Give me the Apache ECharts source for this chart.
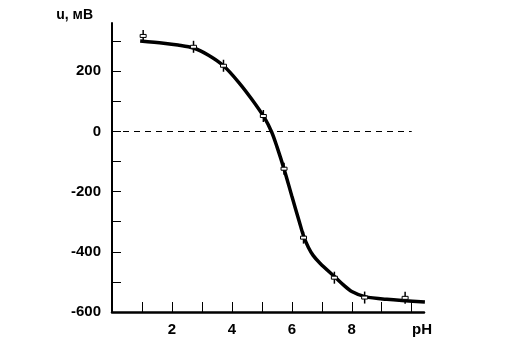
<!DOCTYPE html>
<html>
<head>
<meta charset="utf-8">
<script src="https://cdn.jsdelivr.net/npm/echarts@6/dist/echarts.min.js"></script>
<style>
  html, body { margin: 0; padding: 0; background: #fff; }
  #chart-container { width: 513px; height: 352px; }
</style>
</head>
<body>
<div id="chart-container"></div>
<script>
// measured points (pH, u in mV)
var pointPH = [1.04, 2.72, 3.72, 5.05, 5.74, 6.39, 7.42, 8.43, 9.78];
var pointU = [317, 281, 218, 51, -124, -353, -486, -552, -553];

// fitted curve
var curvePH = [0.94, 1.72, 2.2, 2.72, 3.22, 3.72, 4.22, 4.67, 5.09, 5.33, 5.50, 5.75, 6.0, 6.25, 6.39, 6.55, 6.71, 6.94, 7.44, 7.72, 8.0, 8.44, 9.17, 10.44];
var curveU = [300, 293, 287, 277, 253, 218, 164, 106, 45, -3, -50, -128, -215, -300, -347, -385, -412, -438, -484, -510, -532, -549, -558, -567];

var xTickValues = [1, 2, 3, 4, 5, 6, 7, 8, 9, 10];
var xLabelValues = [2, 4, 6, 8];
var yTickValues = [-600, -500, -400, -300, -200, -100, 0, 100, 200, 300];
var yLabelValues = [-600, -400, -200, 0, 200];

var dom = document.getElementById('chart-container');
var myChart = echarts.init(dom, null, { renderer: 'canvas' });

var font = "'Liberation Sans', Arial, sans-serif";

var curveData = curvePH.map(function (x, i) { return [x, curveU[i]]; });
var pointData = pointPH.map(function (x, i) { return [x, pointU[i]]; });

var option = {
  animation: false,
  backgroundColor: '#fff',
  grid: { left: 112, right: 89, top: 23, bottom: 40 },
  xAxis: {
    type: 'value',
    min: 0,
    max: 10.41,
    name: 'pH',
    nameLocation: 'end',
    nameGap: -12,
    nameTextStyle: {
      color: '#000', fontFamily: font, fontWeight: 'bold', fontSize: 15,
      align: 'left', verticalAlign: 'top', padding: [10, 0, 0, 0]
    },
    splitLine: { show: false },
    axisLine: { onZero: false, lineStyle: { color: '#000', width: 2.5 } },
    axisTick: { inside: true, length: 10, customValues: xTickValues, lineStyle: { color: '#000', width: 1 } },
    axisLabel: {
      customValues: xLabelValues, margin: 10,
      color: '#000', fontFamily: font, fontWeight: 'bold', fontSize: 15
    }
  },
  yAxis: {
    type: 'value',
    min: -600,
    max: 360,
    name: 'u, мВ',
    nameLocation: 'end',
    nameGap: 1,
    nameTextStyle: {
      color: '#000', fontFamily: font, fontWeight: 'bold', fontSize: 14,
      align: 'right', padding: [0, 19, 0, 0]
    },
    splitLine: { show: false },
    axisLine: { onZero: false, lineStyle: { color: '#000', width: 2 } },
    axisTick: { inside: true, length: 9, customValues: yTickValues, lineStyle: { color: '#000', width: 1 } },
    axisLabel: {
      customValues: yLabelValues, margin: 11,
      color: '#000', fontFamily: font, fontWeight: 'bold', fontSize: 15
    }
  },
  series: [
    {
      type: 'line',
      data: curveData,
      smooth: 0.3,
      symbol: 'none',
      lineStyle: { color: '#000', width: 3.5 },
      z: 2,
      markLine: {
        silent: true,
        symbol: 'none',
        label: { show: false },
        lineStyle: { color: '#000', width: 1, type: [6, 5] },
        data: [[{ coord: [0, 0] }, { coord: [10, 0] }]]
      }
    },
    {
      type: 'custom',
      data: pointData,
      z: 3,
      renderItem: function (params, api) {
        var p = api.coord([api.value(0), api.value(1)]);
        return {
          type: 'group',
          children: [
            {
              type: 'line',
              shape: { x1: p[0], y1: p[1] - 6, x2: p[0], y2: p[1] + 6 },
              style: { stroke: '#000', lineWidth: 1.5 }
            },
            {
              type: 'rect',
              shape: { x: p[0] - 3, y: p[1] - 1.5, width: 6, height: 3 },
              style: { fill: '#fff', stroke: '#000', lineWidth: 1 }
            }
          ]
        };
      }
    }
  ]
};

myChart.setOption(option);
window.addEventListener('resize', myChart.resize);
</script>
</body>
</html>
